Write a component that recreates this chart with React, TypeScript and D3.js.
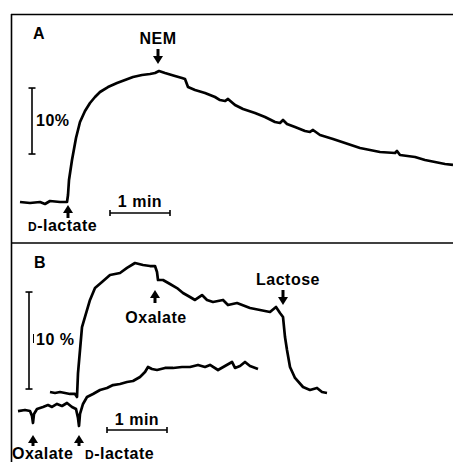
import React from "react";
import * as d3 from "d3";

// Panel A: seconds from D-lactate addition, % change
const aTime = [-48, -38, -28, -23, -18, -8, -1, 0, 1, 4, 8, 12, 17, 22, 27, 32, 40, 49, 57, 65, 74, 82, 87, 91, 97, 107, 114, 117, 120, 127, 137, 147, 152, 157, 160, 167, 175, 187, 197, 207, 212, 215, 219, 227, 237, 242, 245, 252, 265, 277, 292, 302, 312, 327, 329, 332, 347, 357, 367, 377, 385];
const aValue = [0, -0.15, 0, -0.3, 0.15, 0, 0, 1.06, 3.33, 6.36, 9.7, 12.12, 13.79, 15.0, 15.91, 16.67, 17.42, 18.03, 18.48, 18.94, 19.24, 19.39, 19.55, 19.85, 19.55, 19.09, 18.79, 18.64, 17.42, 16.97, 16.52, 15.91, 15.45, 15.3, 15.61, 14.7, 14.09, 13.48, 12.88, 12.12, 11.97, 12.42, 11.82, 11.36, 10.76, 10.61, 10.91, 10.15, 9.55, 8.94, 8.18, 7.88, 7.58, 7.42, 7.73, 7.12, 6.82, 6.36, 6.06, 5.76, 5.61];

// Panel B, upper trace (D-lactate, then oxalate, then lactose)
const bUpperTime = [-29, -24, -19, -14, -9, -4, -2, -1, 1, 3, 6, 11, 16, 23, 31, 41, 48, 56, 64, 71, 76, 78, 79, 84, 91, 98, 104, 111, 116, 123, 128, 134, 144, 149, 158, 171, 181, 191, 197, 201, 204, 206, 208, 211, 216, 224, 231, 238, 243, 248];
const bUpperValue = [0.1, 0, 0.1, 0, -0.1, -0.1, -0.41, 2.06, 4.43, 6.8, 7.84, 9.59, 10.82, 11.44, 12.16, 12.37, 12.89, 13.4, 13.2, 13.09, 13.09, 12.47, 11.65, 11.65, 11.24, 10.82, 10.31, 9.9, 9.59, 10.1, 9.59, 9.38, 9.59, 9.07, 9.28, 8.76, 8.56, 8.35, 8.87, 8.25, 7.84, 5.77, 4.43, 2.68, 1.55, 0.62, 0.31, 0.52, 0.1, 0];

// Panel B, lower trace (oxalate first, then D-lactate)
const bLowerTime = [-61, -54, -49, -47, -46, -45, -42, -36, -31, -27, -22, -17, -12, -7, -3, -1, 0, 1, 4, 8, 14, 21, 28, 34, 41, 48, 54, 61, 66, 69, 73, 78, 86, 94, 103, 111, 119, 126, 131, 139, 146, 153, 156, 161, 166, 171, 179];
const bLowerValue = [-1.86, -1.75, -1.86, -2.37, -3.09, -2.16, -1.65, -1.44, -1.24, -1.44, -1.13, -1.34, -1.03, -1.44, -1.65, -2.58, -3.4, -2.16, -1.13, -0.41, -0.1, 0.31, 0.52, 0.82, 0.93, 1.13, 1.24, 1.65, 2.16, 2.68, 2.47, 2.37, 2.58, 2.58, 2.68, 2.68, 2.89, 2.68, 2.89, 2.37, 2.78, 3.2, 2.58, 2.78, 3.2, 2.78, 2.47];

// additions (seconds)
const aNemTime = 90;
const aLactateTime = 0;
const bOxalateTime = 76;
const bLactoseTime = 204;
const bOxalateFirstTime = -46;
const bLactateTime = 0;

const FONT = "'Liberation Sans', Arial, Helvetica, sans-serif";
const FS = 16;

type ArrowProps = { x: number; tip: number; tail: number };

const Arrow = ({ x, tip, tail }: ArrowProps) => {
  const dir = tail > tip ? 1 : -1; // 1 = points up
  const head = 7;
  return (
    <g>
      <line x1={x} x2={x} y1={tail} y2={tip + dir * head} stroke="#000" strokeWidth={3} />
      <path
        d={`M${x},${tip} L${x - 5},${tip + dir * (head + 1)} L${x + 5},${tip + dir * (head + 1)} Z`}
        fill="#000"
      />
    </g>
  );
};

const Label = ({ x, y, children, anchor = "start" }: any) => (
  <text
    x={x}
    y={y}
    textAnchor={anchor}
    fontFamily={FONT}
    fontWeight="bold"
    fontSize={FS}
    letterSpacing={0.5}
    fill="#000"
  >
    {children}
  </text>
);

const App = () => {
  // Panel A scales: 1 s = 1 px, 10% = 66 px
  const xA = d3.scaleLinear().domain([0, 60]).range([68, 128]);
  const yA = d3.scaleLinear().domain([0, 10]).range([202, 136]);
  // Panel B scales: 10% = 97 px
  const xB = d3.scaleLinear().domain([0, 60]).range([79, 139]);
  const yB = d3.scaleLinear().domain([0, 10]).range([393, 296]);

  const lineA = d3
    .line<number>()
    .x((_, i) => xA(aTime[i]))
    .y((d) => yA(d));
  const lineBU = d3
    .line<number>()
    .x((_, i) => xB(bUpperTime[i]))
    .y((d) => yB(d));
  const lineBL = d3
    .line<number>()
    .x((_, i) => xB(bLowerTime[i]))
    .y((d) => yB(d));

  const trace = { fill: "none", stroke: "#000", strokeWidth: 2.7, strokeLinejoin: "round" as const };
  const bar = { stroke: "#000", strokeWidth: 1.6 };

  // scale bars
  const aBarX = 32;
  const aBarY0 = yA(7.27);
  const aBarY1 = yA(17.27);
  const aMinX0 = xA(42);
  const aMinX1 = xA(102);
  const aMinY = 213;

  const bBarX = 29;
  const bBarY0 = yB(0.41);
  const bBarY1 = yB(10.41);
  const bMinX0 = xB(28);
  const bMinX1 = xB(88);
  const bMinY = 430;

  return (
    <svg
      width={453}
      height={462}
      style={{ position: "absolute", left: 0, top: 0, background: "#fff" }}
    >
      {/* frame */}
      <line x1={11.5} x2={11.5} y1={14} y2={462} stroke="#000" strokeWidth={1.6} />
      <line x1={11} x2={453} y1={14.5} y2={14.5} stroke="#000" strokeWidth={1.6} />
      <line x1={11} x2={453} y1={243} y2={243} stroke="#000" strokeWidth={1.6} />

      {/* Panel A */}
      <Label x={33} y={39}>A</Label>
      <path d={lineA(aValue) || ""} {...trace} />
      <Label x={xA(aNemTime)} y={44} anchor="middle">NEM</Label>
      <Arrow x={xA(aNemTime)} tip={64} tail={49} />
      <Arrow x={xA(aLactateTime)} tip={205} tail={218} />
      <text x={28} y={231} fontFamily={FONT} fontWeight="bold" fontSize={FS} letterSpacing={0.5}>
        <tspan fontSize={12}>D</tspan>-lactate
      </text>
      <line x1={aBarX} x2={aBarX} y1={aBarY0} y2={aBarY1} {...bar} />
      <line x1={aBarX - 3.5} x2={aBarX + 3.5} y1={aBarY0} y2={aBarY0} {...bar} />
      <line x1={aBarX - 3.5} x2={aBarX + 3.5} y1={aBarY1} y2={aBarY1} {...bar} />
      <Label x={36} y={126}>10%</Label>
      <line x1={aMinX0} x2={aMinX1} y1={aMinY} y2={aMinY} {...bar} />
      <line x1={aMinX0} x2={aMinX0} y1={aMinY - 3} y2={aMinY + 3} {...bar} />
      <line x1={aMinX1} x2={aMinX1} y1={aMinY - 3} y2={aMinY + 3} {...bar} />
      <Label x={(aMinX0 + aMinX1) / 2} y={207} anchor="middle">1 min</Label>

      {/* Panel B */}
      <Label x={34} y={268}>B</Label>
      <path d={lineBU(bUpperValue) || ""} {...trace} />
      <path d={lineBL(bLowerValue) || ""} {...trace} />
      <Arrow x={xB(bOxalateTime)} tip={290} tail={303} />
      <Label x={xB(bOxalateTime) + 1} y={323} anchor="middle">Oxalate</Label>
      <Arrow x={xB(bLactoseTime)} tip={305} tail={290} />
      <Label x={xB(bLactoseTime) + 5} y={285} anchor="middle">Lactose</Label>
      <line x1={bBarX} x2={bBarX} y1={bBarY0} y2={bBarY1} {...bar} />
      <line x1={bBarX - 3.5} x2={bBarX + 3.5} y1={bBarY0} y2={bBarY0} {...bar} />
      <line x1={bBarX - 3.5} x2={bBarX + 3.5} y1={bBarY1} y2={bBarY1} {...bar} />
      <line x1={33.5} x2={33.5} y1={334} y2={343} stroke="#000" strokeWidth={1} />
      <Label x={36} y={345}>10 %</Label>
      <line x1={bMinX0} x2={bMinX1} y1={bMinY} y2={bMinY} {...bar} />
      <line x1={bMinX0} x2={bMinX0} y1={bMinY - 3} y2={bMinY + 3} {...bar} />
      <line x1={bMinX1} x2={bMinX1} y1={bMinY - 3} y2={bMinY + 3} {...bar} />
      <Label x={(bMinX0 + bMinX1) / 2} y={425} anchor="middle">1 min</Label>
      <Arrow x={xB(bOxalateFirstTime)} tip={435} tail={446} />
      <Arrow x={xB(bLactateTime)} tip={435} tail={446} />
      <Label x={12} y={459}>Oxalate</Label>
      <text x={85} y={459} fontFamily={FONT} fontWeight="bold" fontSize={FS} letterSpacing={0.5}>
        <tspan fontSize={12}>D</tspan>-lactate
      </text>
    </svg>
  );
};

export default App;
